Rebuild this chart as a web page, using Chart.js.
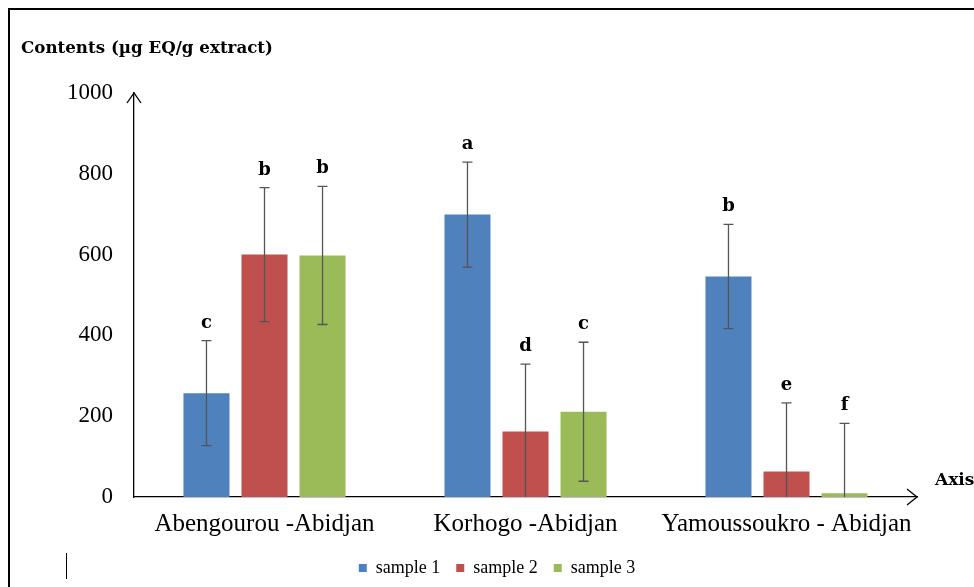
<!DOCTYPE html>
<html>
<head>
<meta charset="utf-8">
<script src="https://cdn.jsdelivr.net/npm/chart.js@4.4.0/dist/chart.umd.min.js"></script>
<style>
  body { margin: 0; background: #fff; }
  #wrap { width: 974px; height: 587px; }
</style>
</head>
<body>
<div id="wrap"><canvas id="myChart" width="974" height="587"></canvas></div>
<script>
// Chart data
const categories = ['Abengourou -Abidjan', 'Korhogo -Abidjan', 'Yamoussoukro - Abidjan'];
const seriesNames = ['sample 1', 'sample 2', 'sample 3'];

const sample1 = [257, 699, 546];
const sample2 = [600, 162, 63];
const sample3 = [598, 211, 9];

// error bar sizes (+/-)
const err1 = [130, 130, 129];
const err2 = [166, 167, 170];
const err3 = [171, 172, 173];

// letters over each bar
const letters1 = ['c', 'a', 'b'];
const letters2 = ['b', 'd', 'e'];
const letters3 = ['b', 'c', 'f'];

const yTicks = [0, 200, 400, 600, 800, 1000];

const colors = ['#4F81BD', '#C0504D', '#9BBB59'];
const errors = [err1, err2, err3];
const letters = [letters1, letters2, letters3];

const serif = '"Liberation Serif", "Times New Roman", serif';
const boldSerif = '"DejaVu Serif", serif';

// Draws frame, title, error bars, letters, arrows
const extras = {
  id: 'extras',
  beforeDraw(chart) {
    const ctx = chart.ctx;
    ctx.save();
    ctx.fillStyle = '#fff';
    ctx.fillRect(0, 0, chart.width, chart.height);
    ctx.strokeStyle = '#000';
    ctx.lineWidth = 2;
    ctx.strokeRect(9, 9, 1200, 1200);
    // small stray mark bottom left
    ctx.lineWidth = 1;
    ctx.beginPath();
    ctx.moveTo(66.5, 553);
    ctx.lineTo(66.5, 579);
    ctx.stroke();
    // title
    ctx.fillStyle = '#000';
    ctx.font = 'bold 16.7px ' + boldSerif;
    ctx.textBaseline = 'alphabetic';
    ctx.fillText('Contents (µg EQ/g extract)', 21, 53);
    ctx.restore();
  },
  afterDatasetsDraw(chart) {
    const ctx = chart.ctx;
    const y = chart.scales.y;
    ctx.save();
    for (let i = 0; i < chart.data.datasets.length; i++) {
      const meta = chart.getDatasetMeta(i);
      const vals = chart.data.datasets[i].data;
      for (let j = 0; j < vals.length; j++) {
        const x = meta.data[j].x;
        const hi = vals[j] + errors[i][j];
        const lo = Math.max(0, vals[j] - errors[i][j]);
        const yHi = y.getPixelForValue(hi);
        const yLo = y.getPixelForValue(lo);
        ctx.strokeStyle = '#555';
        ctx.lineWidth = 1.3;
        ctx.beginPath();
        ctx.moveTo(x, yHi);
        ctx.lineTo(x, yLo);
        ctx.moveTo(x - 5, yHi);
        ctx.lineTo(x + 5, yHi);
        if (lo > 0) {
          ctx.moveTo(x - 5, yLo);
          ctx.lineTo(x + 5, yLo);
        }
        ctx.stroke();
        // letter
        ctx.fillStyle = '#000';
        ctx.font = 'bold 18px ' + boldSerif;
        ctx.textAlign = 'center';
        ctx.textBaseline = 'alphabetic';
        ctx.fillText(letters[i][j], x, yHi - 13);
      }
    }
    ctx.restore();
  },
  afterDraw(chart) {
    const ctx = chart.ctx;
    const a = chart.chartArea;
    ctx.save();
    ctx.strokeStyle = '#000';
    ctx.lineWidth = 1.3;
    ctx.beginPath();
    // y arrow
    ctx.moveTo(a.left - 7, a.top + 10);
    ctx.lineTo(a.left, a.top);
    ctx.lineTo(a.left + 7, a.top + 10);
    // x arrow
    ctx.moveTo(a.right - 10, a.bottom - 8);
    ctx.lineTo(a.right, a.bottom);
    ctx.lineTo(a.right - 10, a.bottom + 8);
    ctx.stroke();
    ctx.fillStyle = '#000';
    ctx.font = 'bold 17px ' + boldSerif;
    ctx.textBaseline = 'middle';
    ctx.fillText('Axis', 935, 481);
    ctx.restore();
  }
};

const datasets = [sample1, sample2, sample3].map((d, i) => ({
  label: seriesNames[i],
  data: d,
  backgroundColor: colors[i],
  borderWidth: 0,
  categoryPercentage: 0.667,
  barPercentage: 0.793
}));

const chart = new Chart(document.getElementById('myChart'), {
  type: 'bar',
  data: { labels: categories, datasets: datasets },
  options: {
    responsive: false,
    animation: false,
    devicePixelRatio: 1,
    layout: { padding: { top: 93, left: 20, right: 0, bottom: 0 } },
    plugins: {
      legend: {
        position: 'bottom',
        labels: {
          boxWidth: 8,
          boxHeight: 8,
          padding: 16,
          color: '#000',
          font: { family: serif, size: 18 }
        }
      },
      tooltip: { enabled: false }
    },
    scales: {
      x: {
        grid: { display: false, drawTicks: false },
        border: { display: true, color: '#000', width: 1.3 },
        ticks: { color: '#000', padding: 12, font: { family: serif, size: 25 } },
        afterFit(scale) { scale.height = 46; }
      },
      y: {
        min: 0,
        max: 1000,
        grid: { display: false, drawTicks: false },
        border: { display: true, color: '#000', width: 1.3 },
        ticks: {
          color: '#000',
          padding: 21,
          font: { family: serif, size: 23 },
          stepSize: 200,
          callback: (v) => yTicks.includes(v) ? v : ''
        },
        afterFit(scale) { scale.width = 114; }
      },
      y2: {
        position: 'right',
        min: 0,
        max: 1000,
        grid: { display: false, drawTicks: false },
        border: { display: false },
        ticks: { display: false },
        afterFit(scale) { scale.width = 57; }
      }
    }
  },
  plugins: [extras]
});
</script>
</body>
</html>
